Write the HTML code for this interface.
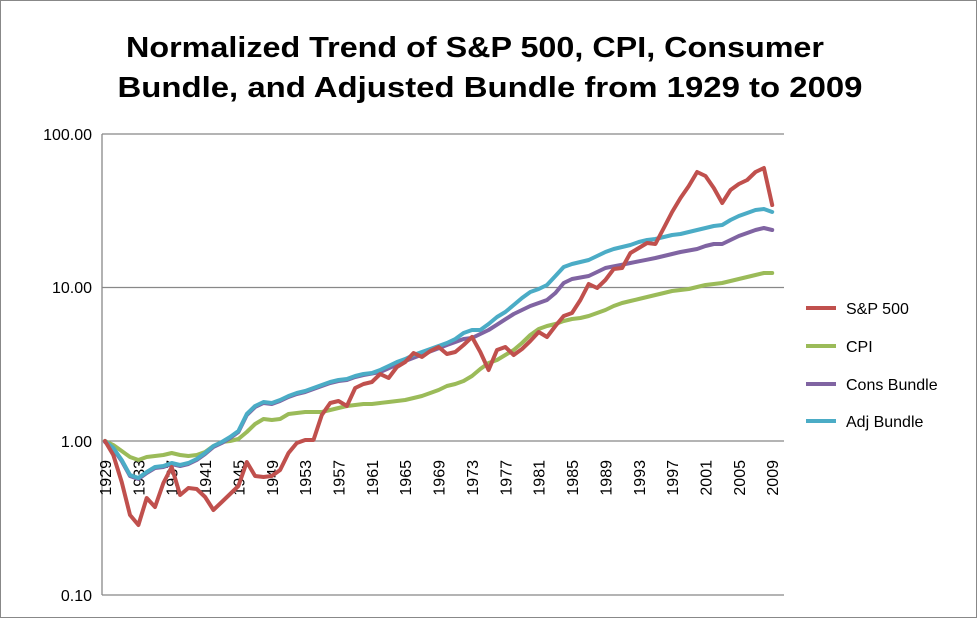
<!DOCTYPE html>
<html><head><meta charset="utf-8"><style>body{margin:0;background:#fff}svg{display:block}</style></head>
<body>
<svg id="s" width="978" height="619" xmlns="http://www.w3.org/2000/svg" font-family="Liberation Sans, sans-serif">
<rect x="0.5" y="0.5" width="976" height="617" fill="#fff" stroke="#888"/>
<text x="475" y="57" font-size="29" font-weight="bold" text-anchor="middle" textLength="698" lengthAdjust="spacingAndGlyphs">Normalized Trend of S&amp;P 500, CPI, Consumer</text>
<text x="490" y="97" font-size="29" font-weight="bold" text-anchor="middle" textLength="745" lengthAdjust="spacingAndGlyphs">Bundle, and Adjusted Bundle from 1929 to 2009</text>
<g stroke="#888" stroke-width="1.3">
<line x1="102" y1="134" x2="784" y2="134"/>
<line x1="102" y1="287.5" x2="784" y2="287.5"/>
<line x1="102" y1="441" x2="784" y2="441"/>
<line x1="102" y1="595" x2="784" y2="595"/>
<line x1="102" y1="134" x2="102" y2="595"/>
</g>
<g font-size="16" text-anchor="end">
<text x="92" y="140">100.00</text>
<text x="92" y="293">10.00</text>
<text x="92" y="447">1.00</text>
<text x="92" y="601">0.10</text>
</g>
<g id="xl" font-size="16" text-anchor="end"></g>
<g id="lines" fill="none" stroke-width="4" stroke-linejoin="round" stroke-linecap="round"></g>
<g stroke-width="4">
<line x1="806" y1="308" x2="836" y2="308" stroke="#c0504d"/>
<line x1="806" y1="346" x2="836" y2="346" stroke="#9bbb59"/>
<line x1="806" y1="384" x2="836" y2="384" stroke="#8064a2"/>
<line x1="806" y1="421" x2="836" y2="421" stroke="#4bacc6"/>
</g>
<g font-size="16">
<text x="846" y="314">S&amp;P 500</text>
<text x="846" y="352">CPI</text>
<text x="846" y="390">Cons Bundle</text>
<text x="846" y="427">Adj Bundle</text>
</g>
</svg>
<script>
var sp=[441,455,482,515,525,498,507,483,467,495,488,489,497,510,502,494,486,462,476,477,476,470,453,443,440,440,415,403,401,406,388,384,382,374,378,367,362,353,357,351,347,354,352,345,337,352,370,350,347,355,349,341,332,337,326,316,313,300,284,288,280,269,268,253,248,243,244,228,212,198,186,172,176,188,203,190,184,180,172,168,205];
var cpi=[441,445,451,457,460,457,456,455,453,455,456,455,452,446,442,441,439,432,424,419,420,419,414,413,412,412,412,410,408,406,405,404,404,403,402,401,400,398,396,393,390,386,384,381,376,369,363,360,355,350,343,335,329,326,324,321,319,318,316,313,310,306,303,301,299,297,295,293,291,290,289,287,285,284,283,281,279,277,275,273,273];
var adj=[441,448,460,475,478,472,467,466,463,465,463,459,453,446,442,437,431,414,406,402,403,400,396,393,391,388,385,382,380,379,376,374,373,370,366,362,359,355,352,349,346,343,339,333,330,330,324,317,312,305,298,292,289,285,276,267,264,262,260,256,252,249,247,245,242,240,239,237,235,234,232,230,228,226,225,220,216,213,210,209,212];
var cons=adj.slice(0,31).map(function(v){return v+1});
var tail=[[1960,375],[1962,372],[1965,361],[1970,345],[1972,339],[1973,338],[1975,330],[1978,314],[1980,306],[1982,300],[1983,293],[1984,283],[1985,279],[1987,276],[1989,268],[1992,263],[1995,258],[1998,252],[2000,249],[2001,246],[2002,244],[2003,244],[2004,240],[2005,236],[2006,233],[2007,230],[2008,228],[2009,230]];
for(var y=1960;y<=2009;y++){for(var i=0;i<tail.length-1;i++){if(y>=tail[i][0]&&y<=tail[i+1][0]){var t=(y-tail[i][0])/(tail[i+1][0]-tail[i][0]);cons[y-1929]=tail[i][1]+t*(tail[i+1][1]-tail[i][1]);break;}}}
function X(i){return 105+i*8.34}
function pts(a){return a.map(function(v,i){return X(i).toFixed(1)+","+v}).join(" ")}
var ns="http://www.w3.org/2000/svg",g=document.getElementById("lines");
[[cpi,"#9bbb59"],[cons,"#8064a2"],[adj,"#4bacc6"],[sp,"#c0504d"]].forEach(function(s){var p=document.createElementNS(ns,"polyline");p.setAttribute("points",pts(s[0]));p.setAttribute("stroke",s[1]);g.appendChild(p);});
var xl=document.getElementById("xl");
for(var yr=1929;yr<=2009;yr+=4){var t=document.createElementNS(ns,"text");var x=X(yr-1929)+6;t.setAttribute("transform","translate("+x+",460) rotate(-90)");t.textContent=yr;xl.appendChild(t);}
</script>
</body></html>
